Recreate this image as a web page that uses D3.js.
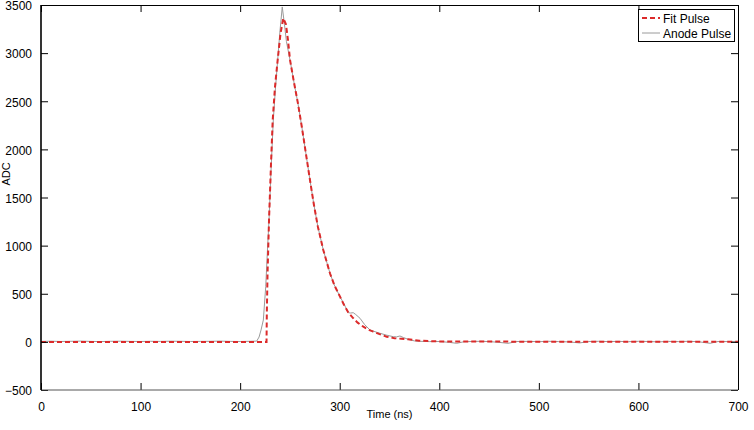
<!DOCTYPE html>
<html>
<head>
<meta charset="utf-8">
<script src="https://cdn.jsdelivr.net/npm/d3@7"></script>
<style>
  html, body { margin: 0; padding: 0; background: #fff; }
  svg { display: block; font-family: "Liberation Sans", Arial, Helvetica, sans-serif; }
</style>
</head>
<body>
<svg id="chart" width="754" height="430"></svg>
<script>
// ---- data ----
const xTicks = [0, 100, 200, 300, 400, 500, 600, 700];
const yTicks = [-500, 0, 500, 1000, 1500, 2000, 2500, 3000, 3500];
const seriesNames = ["Fit Pulse", "Anode Pulse"];

const anodeTime = [0,10,20,30,40,50,60,70,80,90,100,110,120,130,140,150,160,170,180,190,200,210,
  216.6,219,221,223.3,225.7,227.3,229,231,233.3,235.5,237.7,240,242.3,244.5,246.5,
  250.1,254,258,262,266,270,274,278,283.5,290.2,295,300.3,304,308.6,311,313.6,316,320.4,325,330.4,335.4,340.5,347,353.8,357,360.5,364,368.6,
  375,380,390,400,410,417.5,425,441,450,460,469,478,490,500,510,520,530,541,550,560,570,580,590,600,610,620,630,640,650,660,672,680,690,700];
const anodeValues = [5,7,4,6,8,5,3,6,7,5,4,6,5,7,6,4,5,6,8,5,4,6,
  8,50,124,227,573,924,1267,1780,2305,2640,2929,3230,3480,3300,3120,
  2929,2700,2480,2230,1960,1690,1430,1200,955,713,580,470,400,303,300,303,285,245,180,124,106,89,70,54,52,61,45,27,
  10,6,3,4,-5,-15,2,6,3,-5,-15,4,5,2,6,3,0,-11,4,6,3,5,2,6,4,0,5,3,6,2,-15,4,3,5];

const fitTime = [0,100,200,226.5,226.8,227.5,229,231,232.7,235,237.7,240.5,243.3,246,248,
  250.1,254,258,262,266,270,274,278,283.5,290.2,295,300.3,304,308.6,313.7,318,323.7,328,333.7,340,347.2,355,362,368.6,380,400,500,600,700];
const fitValues = [0,0,0,0,300,700,1267,1850,2305,2650,2929,3200,3362,3300,3140,
  2929,2700,2480,2230,1960,1690,1430,1200,955,713,580,470,390,305,245,200,158,130,106,80,54,38,32,27,12,4,2,2,2];

// ---- layout ----
const mLeft = 41, mRight = 738, mTop = 5, mBottom = 390;

const svg = d3.select("#chart");
const x = d3.scaleLinear().domain([0, 700]).range([mLeft, mRight]);
const y = d3.scaleLinear().domain([-500, 3500]).range([mBottom, mTop]);

svg.append("defs").append("clipPath").attr("id", "plotclip")
  .append("rect").attr("x", mLeft).attr("y", mTop).attr("width", mRight - mLeft).attr("height", mBottom - mTop);

const line = d3.line().x(d => x(d[0])).y(d => y(d[1]));

const plot = svg.append("g").attr("clip-path", "url(#plotclip)");

plot.append("path")
  .datum(anodeTime.map((t, i) => [t, anodeValues[i]]))
  .attr("fill", "none")
  .attr("stroke", "#9a9a9a")
  .attr("stroke-width", 1)
  .attr("d", line);

plot.append("path")
  .datum(fitTime.map((t, i) => [t, fitValues[i]]))
  .attr("fill", "none")
  .attr("stroke", "#dc2a2a")
  .attr("stroke-width", 2)
  .attr("stroke-dasharray", "5,3")
  .attr("d", line);

// ---- axes ----
const tickLen = 7;
const fmt = d => d < 0 ? "\u2212" + Math.abs(d) : String(d);

const xAxisB = svg.append("g").attr("transform", `translate(0,${mBottom})`)
  .call(d3.axisBottom(x).tickValues(xTicks).tickSize(-tickLen).tickPadding(tickLen + 5).tickFormat(fmt));
const xAxisT = svg.append("g").attr("transform", `translate(0,${mTop})`)
  .call(d3.axisTop(x).tickValues(xTicks).tickSize(-tickLen).tickFormat(""));
const yAxisL = svg.append("g").attr("transform", `translate(${mLeft},0)`)
  .call(d3.axisLeft(y).tickValues(yTicks).tickSize(-tickLen).tickPadding(tickLen + 2).tickFormat(fmt));
const yAxisR = svg.append("g").attr("transform", `translate(${mRight},0)`)
  .call(d3.axisRight(y).tickValues(yTicks).tickSize(-tickLen).tickFormat(""));

[xAxisB, xAxisT, yAxisL, yAxisR].forEach(g => {
  g.select(".domain").remove();
  g.selectAll(".tick line").attr("stroke", "#000").attr("stroke-width", 1);
  g.selectAll(".tick text").attr("fill", "#000").attr("font-size", 12)
    .attr("font-family", "'Liberation Sans', Arial, Helvetica, sans-serif");
});
xAxisB.selectAll(".tick text").attr("dy", "0.72em");
yAxisL.selectAll(".tick text").attr("dy", "0.4em");

// frame
svg.append("line").attr("x1", mLeft).attr("x2", mRight).attr("y1", mTop + 0.5).attr("y2", mTop + 0.5).attr("stroke", "#000");
svg.append("line").attr("x1", mLeft).attr("x2", mRight).attr("y1", mBottom).attr("y2", mBottom).attr("stroke", "#555").attr("stroke-width", 1);
svg.append("line").attr("x1", mLeft).attr("x2", mLeft).attr("y1", mTop).attr("y2", mBottom).attr("stroke", "#000").attr("stroke-width", 1.6);
svg.append("line").attr("x1", mRight + 0.5).attr("x2", mRight + 0.5).attr("y1", mTop).attr("y2", mBottom).attr("stroke", "#000");

// axis labels
svg.append("text").attr("x", (mLeft + mRight) / 2).attr("y", 418).attr("text-anchor", "middle")
  .attr("font-size", 11).attr("fill", "#000").text("Time (ns)");
svg.append("text").attr("transform", `translate(10,174) rotate(-90)`)
  .attr("text-anchor", "middle").attr("font-size", 11).attr("fill", "#000").text("ADC");

// legend
const lg = svg.append("g");
lg.append("rect").attr("x", 638.5).attr("y", 9.5).attr("width", 96).attr("height", 32)
  .attr("fill", "#fff").attr("stroke", "#000").attr("stroke-width", 1);
const styles = [
  { stroke: "#dc2a2a", width: 2, dash: "5,3" },
  { stroke: "#9a9a9a", width: 1, dash: null }
];
seriesNames.forEach((name, i) => {
  const cy = 18 + i * 15;
  lg.append("line").attr("x1", 642).attr("x2", 660).attr("y1", cy).attr("y2", cy)
    .attr("stroke", styles[i].stroke).attr("stroke-width", styles[i].width)
    .attr("stroke-dasharray", styles[i].dash);
  lg.append("text").attr("x", 663).attr("y", cy + 4.5).attr("font-size", 12).attr("fill", "#000").text(name);
});
</script>
</body>
</html>
